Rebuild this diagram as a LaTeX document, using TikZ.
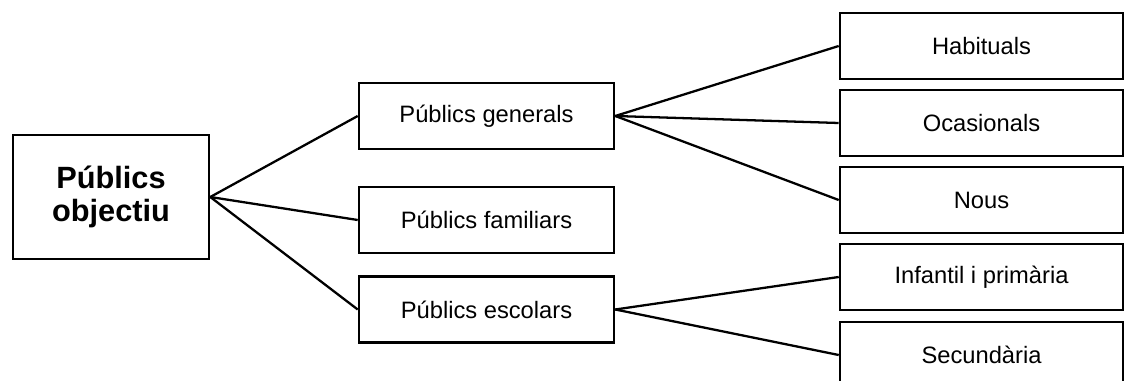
\documentclass[tikz,border=0pt]{standalone}
\usepackage{fontspec}
\setmainfont{Liberation Sans}
\usepackage{tikz}
\usetikzlibrary{positioning}

\tikzset{
  caixa/.style={draw, line width=1.5pt, fill=white, align=center,
    font=\fontsize{13.5}{16}\selectfont},
  arrel/.style={caixa, minimum width=3.92cm, minimum height=2.48cm,
    font=\fontsize{17.5}{18.9}\selectfont\bfseries},
  grup/.style={caixa, minimum width=5.1cm, minimum height=1.32cm},
  tipus/.style={caixa, minimum width=5.66cm, minimum height=1.32cm},
  enllac/.style={line width=1.3pt}
}

\begin{document}
\begin{tikzpicture}[x=0.02cm, y=-0.02cm]
  % Marc
  \useasboundingbox (0,0) rectangle (1133,381);

  % Caixa principal
  \node[arrel] (objectiu) at (111,197) {Públics\\objectiu};

  % Grups de públics
  \node[grup] (generals)  at (486.5,116)   {Públics generals};
  \node[grup] (familiars) at (486.5,220)   {Públics familiars};
  \node[grup] (escolars)  at (486.5,309.5) {Públics escolars};

  % Subgrups
  \node[tipus] (habituals)  at (981.5,46)  {Habituals};
  \node[tipus] (ocasionals) at (981.5,123) {Ocasionals};
  \node[tipus] (nous)       at (981.5,200) {Nous};
  \node[tipus] (infantil)   at (981.5,277) {Infantil i primària};
  \node[tipus] (secundaria) at (981.5,355) {Secundària};

  % Enllaços
  \foreach \g in {generals,familiars,escolars}
    \draw[enllac] (objectiu.east) -- (\g.west);
  \foreach \t in {habituals,ocasionals,nous}
    \draw[enllac] (generals.east) -- (\t.west);
  \foreach \t in {infantil,secundaria}
    \draw[enllac] (escolars.east) -- (\t.west);
\end{tikzpicture}
\end{document}
